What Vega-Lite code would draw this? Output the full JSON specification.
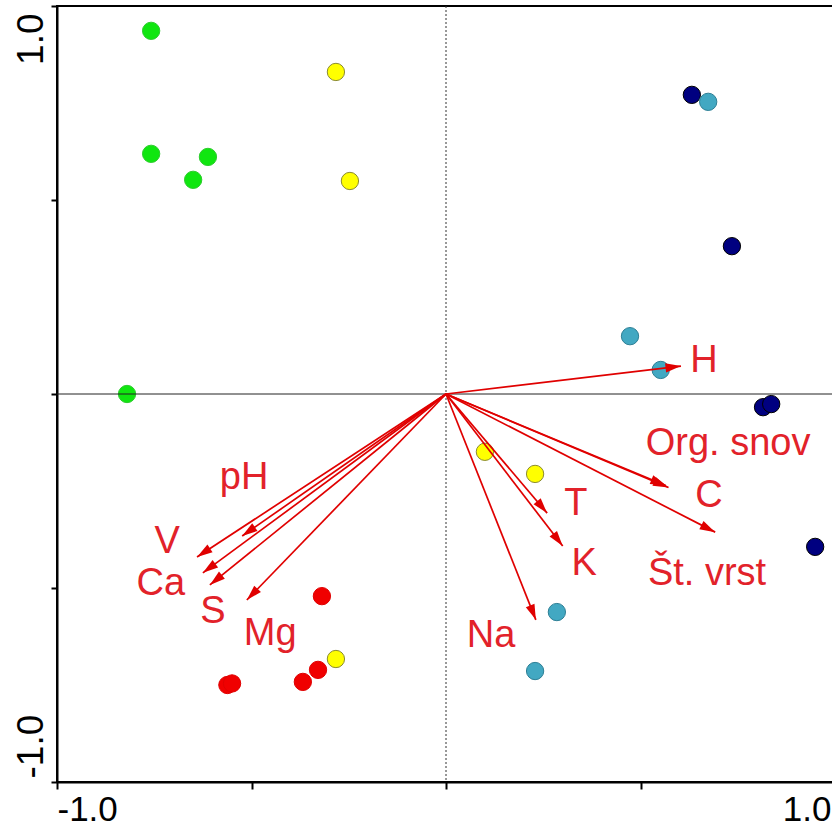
{
  "$schema": "https://vega.github.io/schema/vega-lite/v6.json",
  "width": 778,
  "height": 776,
  "autosize": {"type": "none"},
  "padding": {"left": 57, "top": 6, "right": 0, "bottom": 45},
  "config": {
    "view": {"stroke": "black", "strokeWidth": 2},
    "font": "Liberation Sans"
  },
  "datasets": {
    "sites": [
      {"group": "g1", "x": -0.758, "y": 0.936},
      {"group": "g1", "x": -0.758, "y": 0.619},
      {"group": "g1", "x": -0.612, "y": 0.611},
      {"group": "g1", "x": -0.650, "y": 0.552},
      {"group": "g1", "x": -0.820, "y": 0.0},
      {"group": "g2", "x": -0.283, "y": 0.830},
      {"group": "g2", "x": -0.247, "y": 0.549},
      {"group": "g2", "x": 0.100, "y": -0.149},
      {"group": "g2", "x": 0.229, "y": -0.206},
      {"group": "g2", "x": -0.283, "y": -0.683},
      {"group": "g3", "x": -0.319, "y": -0.521},
      {"group": "g3", "x": -0.329, "y": -0.711},
      {"group": "g3", "x": -0.368, "y": -0.742},
      {"group": "g3", "x": -0.562, "y": -0.750},
      {"group": "g3", "x": -0.550, "y": -0.746},
      {"group": "g4", "x": 0.632, "y": 0.771},
      {"group": "g4", "x": 0.735, "y": 0.381},
      {"group": "g4", "x": 0.815, "y": -0.034},
      {"group": "g4", "x": 0.836, "y": -0.026},
      {"group": "g4", "x": 0.949, "y": -0.394},
      {"group": "g5", "x": 0.674, "y": 0.753},
      {"group": "g5", "x": 0.473, "y": 0.149},
      {"group": "g5", "x": 0.552, "y": 0.062},
      {"group": "g5", "x": 0.285, "y": -0.562},
      {"group": "g5", "x": 0.229, "y": -0.714}
    ],
    "vectors": [
      {"var": "H", "x": 0.604, "y": 0.072, "lx": 0.663, "ly": 0.057},
      {"var": "Org. snov", "x": 0.565, "y": -0.236, "lx": 0.725, "ly": -0.157},
      {"var": "C", "x": 0.572, "y": -0.241, "lx": 0.676, "ly": -0.291},
      {"var": "Št. vrst", "x": 0.692, "y": -0.356, "lx": 0.671, "ly": -0.492},
      {"var": "T", "x": 0.260, "y": -0.307, "lx": 0.334, "ly": -0.312},
      {"var": "K", "x": 0.300, "y": -0.392, "lx": 0.355, "ly": -0.466},
      {"var": "Na", "x": 0.231, "y": -0.582, "lx": 0.116, "ly": -0.652},
      {"var": "pH", "x": -0.524, "y": -0.366, "lx": -0.519, "ly": -0.245},
      {"var": "V", "x": -0.640, "y": -0.420, "lx": -0.717, "ly": -0.410},
      {"var": "Ca", "x": -0.625, "y": -0.461, "lx": -0.733, "ly": -0.518},
      {"var": "S", "x": -0.607, "y": -0.492, "lx": -0.599, "ly": -0.590},
      {"var": "Mg", "x": -0.512, "y": -0.531, "lx": -0.452, "ly": -0.647}
    ]
  },
  "layer": [
    {
      "data": {"name": "sites"},
      "mark": {"type": "point", "shape": "circle", "filled": true, "size": 300, "strokeWidth": 1, "opacity": 1},
      "encoding": {
        "x": {
          "field": "x", "type": "quantitative",
          "scale": {"domain": [-1, 1], "nice": false, "zero": false},
          "axis": {
            "title": null, "grid": false,
            "values": [-1, -0.5, 0, 0.5, 1],
            "labelExpr": "datum.value == 1 ? '1.0' : datum.value == -1 ? '-1.0' : ''",
            "domainColor": "black", "domainWidth": 2,
            "tickColor": "black", "tickWidth": 2, "tickSize": 7,
            "labelFontSize": 35, "labelFont": "Liberation Sans", "labelColor": "black",
            "labelPadding": 3, "labelFlush": true, "labelOverlap": false,
            "labelOffset": {"condition": {"test": "datum.value > 0", "value": -4}, "value": 0}
          }
        },
        "y": {
          "field": "y", "type": "quantitative",
          "scale": {"domain": [-1, 1], "nice": false, "zero": false},
          "axis": {
            "title": null, "grid": false,
            "values": [-1, -0.5, 0, 0.5, 1],
            "labelExpr": "datum.value == 1 ? '1.0' : datum.value == -1 ? '-1.0' : ''",
            "domainColor": "black", "domainWidth": 2,
            "tickColor": "black", "tickWidth": 2, "tickSize": 6,
            "labelFontSize": 37, "labelFont": "Liberation Sans", "labelColor": "black",
            "labelAngle": -90, "labelPadding": 9, "labelOverlap": false,
            "labelFlush": false,
            "labelBaseline": "alphabetic",
            "labelAlign": {"condition": {"test": "datum.value > 0", "value": "right"}, "value": "left"},
            "labelOffset": {"condition": {"test": "datum.value > 0", "value": 7}, "value": -4}
          }
        },
        "fill": {
          "field": "group", "type": "nominal", "legend": null,
          "scale": {"domain": ["g1", "g2", "g3", "g4", "g5"], "range": ["#10e610", "#ffff00", "#f00000", "#000080", "#42a8c2"]}
        },
        "stroke": {
          "field": "group", "type": "nominal", "legend": null,
          "scale": {"domain": ["g1", "g2", "g3", "g4", "g5"], "range": ["#2ccc2c", "#8a8a30", "#e00000", "#000000", "#2d7f95"]}
        }
      }
    },
    {
      "data": {"values": [{"v": 0}]},
      "mark": {"type": "rule", "color": "#333333", "strokeWidth": 1, "strokeDash": [2, 2]},
      "encoding": {
        "x": {"field": "v", "type": "quantitative"}
      }
    },
    {
      "data": {"values": [{"v": 0}]},
      "mark": {"type": "rule", "color": "#222222", "strokeWidth": 1},
      "encoding": {
        "y": {"field": "v", "type": "quantitative"}
      }
    },
    {
      "data": {"name": "vectors"},
      "mark": {"type": "rule", "color": "#e00000", "strokeWidth": 1.7},
      "encoding": {
        "x": {"field": "x", "type": "quantitative"},
        "y": {"field": "y", "type": "quantitative"},
        "x2": {"datum": 0},
        "y2": {"datum": 0}
      }
    },
    {
      "data": {"name": "vectors"},
      "transform": [{"calculate": "atan2(datum.x, datum.y) * 180 / PI", "as": "dir"}],
      "mark": {"type": "point", "shape": "M0,0L-0.6,2L0.6,2Z", "filled": true, "size": 240, "color": "#e00000", "opacity": 1, "strokeWidth": 0},
      "encoding": {
        "x": {"field": "x", "type": "quantitative"},
        "y": {"field": "y", "type": "quantitative"},
        "angle": {"field": "dir", "type": "quantitative", "scale": null}
      }
    },
    {
      "data": {"name": "vectors"},
      "mark": {"type": "text", "align": "center", "baseline": "alphabetic", "fontSize": 38, "font": "Liberation Sans", "color": "#e2222a"},
      "encoding": {
        "x": {"field": "lx", "type": "quantitative"},
        "y": {"field": "ly", "type": "quantitative"},
        "text": {"field": "var"}
      }
    }
  ]
}
